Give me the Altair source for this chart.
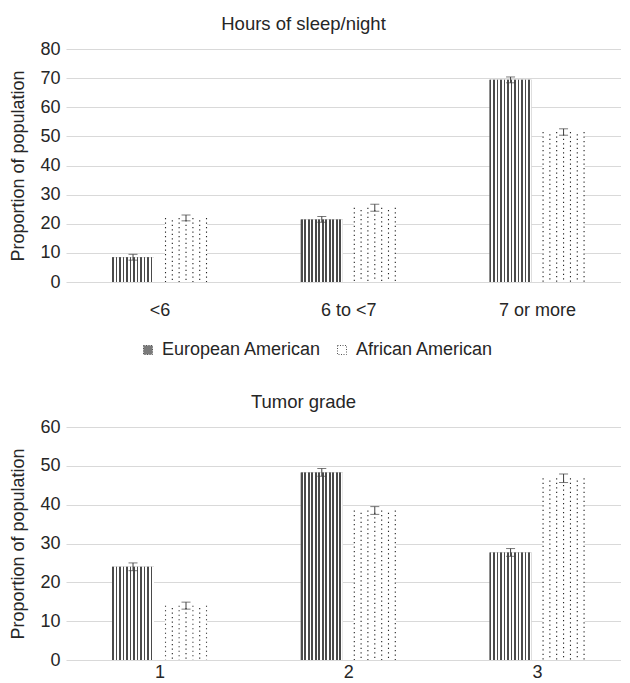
import altair as alt
import pandas as pd

# ---------------- data ----------------
groups = ["European American", "African American"]

sleep_cats = ["<6", "6 to <7", "7 or more"]
sleep_ea = [8.5, 21.5, 69.4]
sleep_ea_err = [1.0, 1.0, 1.0]
sleep_aa = [22.0, 25.5, 51.5]
sleep_aa_err = [1.0, 1.2, 1.1]
sleep_ticks = [0, 10, 20, 30, 40, 50, 60, 70, 80]

grade_cats = ["1", "2", "3"]
grade_ea = [24.0, 48.3, 27.7]
grade_ea_err = [1.0, 1.0, 1.0]
grade_aa = [14.0, 38.5, 46.8]
grade_aa_err = [0.9, 1.0, 1.1]
grade_ticks = [0, 10, 20, 30, 40, 50, 60]


def make_df(cats, ea, ea_err, aa, aa_err):
    rows = []
    for c, v, e in zip(cats, ea, ea_err):
        rows.append({"cat": c, "group": groups[0], "value": v, "lo": v - e, "hi": v + e})
    for c, v, e in zip(cats, aa, aa_err):
        rows.append({"cat": c, "group": groups[1], "value": v, "lo": v - e, "hi": v + e})
    return pd.DataFrame(rows)


# ---------------- styles ----------------
FONT = "Liberation Sans"
TXT = "#262626"
PLOT_W = 555
PLOT_H = 233


def hatch_gradient(n=12, dark="#4a4a4a", light="#ffffff", frac=0.5):
    stops = []
    for i in range(n):
        a, b, c = i / n, (i + frac) / n, (i + 1) / n
        stops += [
            alt.GradientStop(offset=a, color=dark),
            alt.GradientStop(offset=b, color=dark),
            alt.GradientStop(offset=b, color=light),
            alt.GradientStop(offset=c, color=light),
        ]
    return alt.LinearGradient(gradient="linear", stops=stops, x1=0, x2=1, y1=0, y2=0)


# pixel offsets (from the category centre) of the dotted columns of the African American bars
DOT_OFFSETS = [6.0, 12.8, 19.6, 26.5, 33.4, 40.2, 47.0]


def panel(df, cats, ticks, ymax, title, show_legend, x_label_pad):
    x_enc = alt.X(
        "cat:N",
        sort=cats,
        title=None,
        scale=alt.Scale(type="point", padding=0.47, align=0.527),
        axis=alt.Axis(labelAngle=0, domain=False, ticks=False, labelPadding=x_label_pad,
                      labelFontSize=18, labelColor=TXT, grid=False),
    )
    xo_enc = alt.XOffset("group:N", sort=groups,
                         scale=alt.Scale(domain=groups, range=[-47.5, 47.5],
                                         paddingInner=0.2075, paddingOuter=0))

    def y_enc(field):
        return alt.Y(
            field,
            type="quantitative",
            title="Proportion of population",
            scale=alt.Scale(domain=[0, ymax], nice=False),
            axis=alt.Axis(values=ticks, domain=False, ticks=False, labelPadding=6,
                          labelFontSize=18, labelColor=TXT, titleFontSize=18,
                          titleFontWeight="normal", titleColor=TXT, titlePadding=12,
                          gridColor="#d9d9d9", gridWidth=1),
        )

    if show_legend:
        legend = alt.Legend(
            title=None, orient="none", direction="horizontal",
            legendX=73, legendY=292, labelFontSize=18, labelColor=TXT,
            symbolType="square", symbolSize=81, symbolStrokeColor="#555555",
            symbolStrokeWidth=1, symbolDash=[1, 1.5], columnPadding=11, labelOffset=5,
        )
    else:
        legend = None

    base = alt.Chart(df).mark_bar(strokeWidth=0).encode(
        x=x_enc, xOffset=xo_enc, y=y_enc("value"),
        color=alt.Color("group:N", sort=groups,
                        scale=alt.Scale(domain=groups, range=["#7a7a7a", "#ffffff"]),
                        legend=legend),
    )

    ea_bars = alt.Chart(df).transform_filter(alt.datum.group == groups[0]).mark_bar(
        fill=hatch_gradient(), strokeWidth=0
    ).encode(x=x_enc, xOffset=xo_enc, y=y_enc("value"))

    layers = [base, ea_bars]
    for i, off in enumerate(DOT_OFFSETS):
        layers.append(
            alt.Chart(df).transform_filter(alt.datum.group == groups[1]).mark_rule(
                xOffset=off, color="#222222", strokeWidth=1.1,
                strokeDash=[1.2, 3.3], strokeDashOffset=(0 if i % 2 == 0 else 2.2),
            ).encode(x=x_enc, y=y_enc("value"), y2=alt.datum(0))
        )

    err_rule = alt.Chart(df).mark_rule(color="#404040", strokeWidth=1).encode(
        x=x_enc, xOffset=xo_enc, y=y_enc("lo"), y2="hi:Q"
    )
    cap_lo = alt.Chart(df).mark_tick(color="#404040", size=9, thickness=1, orient="horizontal").encode(
        x=x_enc, xOffset=xo_enc, y=y_enc("lo")
    )
    cap_hi = alt.Chart(df).mark_tick(color="#404040", size=9, thickness=1, orient="horizontal").encode(
        x=x_enc, xOffset=xo_enc, y=y_enc("hi")
    )
    layers += [err_rule, cap_lo, cap_hi]

    return alt.layer(*layers).properties(
        width=PLOT_W, height=PLOT_H,
        title=alt.TitleParams(title, fontSize=18.5, fontWeight="normal", color=TXT,
                              anchor="middle", dx=-40, offset=7, font=FONT),
    )


sleep_df = make_df(sleep_cats, sleep_ea, sleep_ea_err, sleep_aa, sleep_aa_err)
grade_df = make_df(grade_cats, grade_ea, grade_ea_err, grade_aa, grade_aa_err)

top = panel(sleep_df, sleep_cats, sleep_ticks, 80, "Hours of sleep/night", True, 19)
bottom = panel(grade_df, grade_cats, grade_ticks, 60, "Tumor grade", False, 3)

chart = alt.vconcat(top, bottom, spacing=33).resolve_scale(
    color="independent"
).resolve_legend(color="independent").properties(
    padding={"left": 1, "top": 6, "right": 0, "bottom": 0}
).configure(font=FONT).configure_view(stroke=None)

chart.save("out.html", embed_options={"renderer": "svg", "actions": False})
